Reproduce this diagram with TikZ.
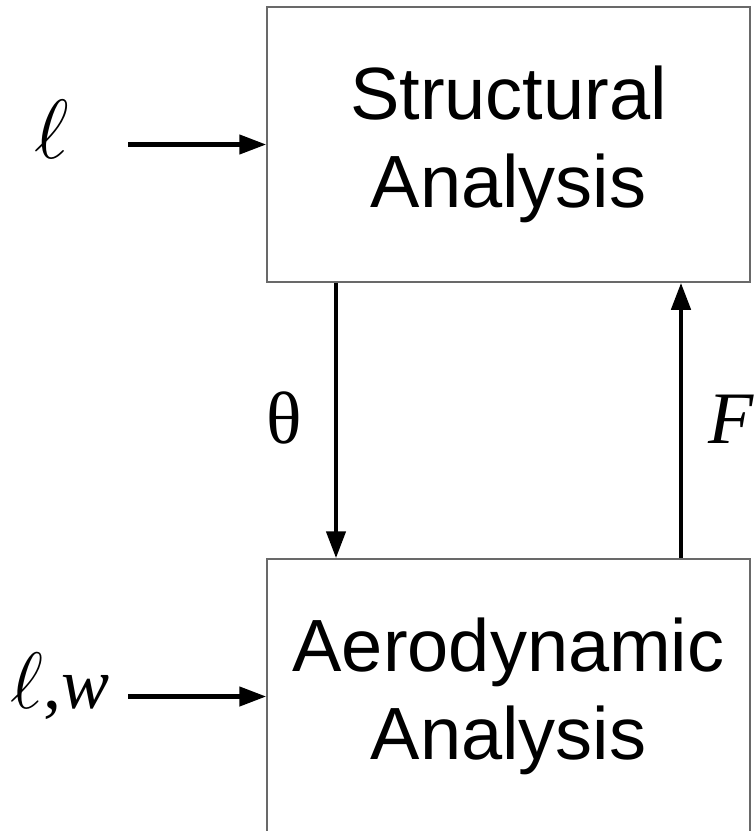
\RequirePackage{fix-cm}
\documentclass[tikz,border=0pt]{standalone}
\usepackage{fontspec}
\setmainfont{Liberation Sans}
\newfontfamily\lblfont{Liberation Serif}
\usetikzlibrary{arrows.meta}
\definecolor{boxgray}{RGB}{105,105,105}
\tikzset{
  blk/.style={draw=boxgray, line width=1.5pt, minimum width=483pt, minimum height=275pt, inner sep=0pt,
    align=center, font=\fontsize{74}{88}\selectfont},
  arr/.style={line width=4.5pt, -{Triangle[length=27pt,width=19pt]}},
  lbl/.style={inner sep=0pt, font=\lblfont\fontsize{74}{80}\selectfont}
}
\begin{document}
\begin{tikzpicture}[x=1pt,y=-1pt]
\useasboundingbox (0,0) rectangle (754,831);
\clip (0,0) rectangle (754,831);
\node[blk] (top) at (508.5,144.5) {Structural\\Analysis};
\node[blk] (bot) at (508.5,696.5) {Aerodynamic\\Analysis};
\node[lbl, anchor=base] (l1) at (52,158) {\fontsize{84}{90}\selectfont$\ell$};
\node[lbl, anchor=base west] (l2) at (10,708) {\fontsize{80}{90}\selectfont$\ell$\fontsize{72}{80}\selectfont,\textit{w}};
\node[lbl, anchor=base] (th) at (284,443) {θ};
\node[lbl, anchor=base] (ff) at (731,443) {\textit{F}};
\coordinate (s1) at (128,144.5);
\coordinate (s2) at (128,696.5);
\draw[arr] (s1) -- (s1 -| top.west);
\draw[arr] (s2) -- (s2 -| bot.west);
\draw[arr] ([xshift=-172.5pt]top.south) -- ([xshift=-172.5pt]bot.north);
\draw[arr] ([xshift=172.5pt]bot.north) -- ([xshift=172.5pt]top.south);
\end{tikzpicture}
\end{document}
